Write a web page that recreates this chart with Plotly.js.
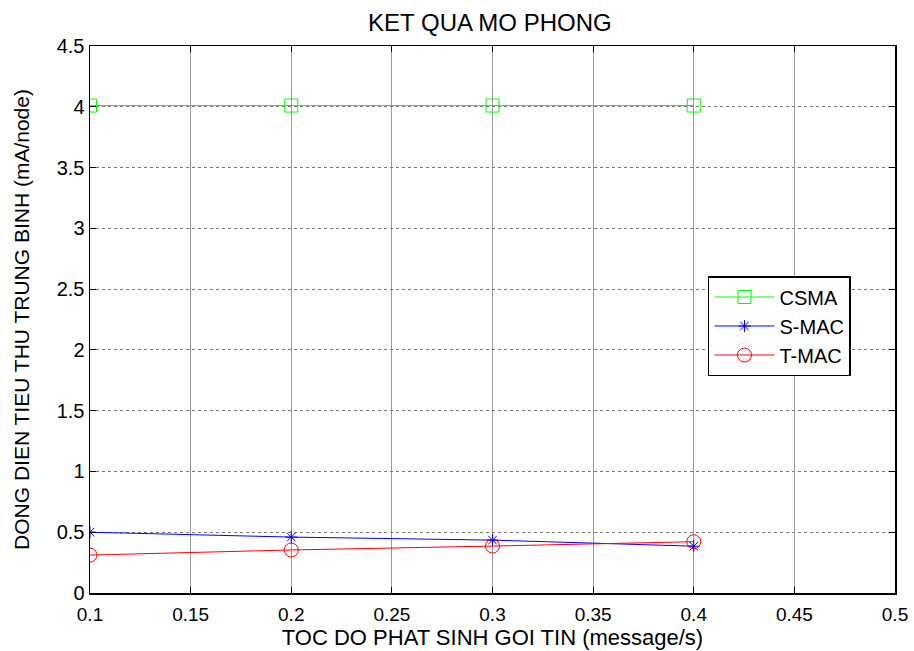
<!DOCTYPE html>
<html><head><meta charset="utf-8">
<script src="https://cdn.plot.ly/plotly-3.0.1.min.js"></script>
<style>body{margin:0;background:#fff}#c{width:914px;height:651px}</style>
</head><body><div id="c"></div>
<script>
const rates = [0.1, 0.2, 0.3, 0.4];
const csma = [4.01, 4.01, 4.01, 4.01];
const smac = [0.50, 0.46, 0.435, 0.385];
const tmac = [0.312, 0.354, 0.386, 0.422];
const names = ['CSMA', 'S-MAC', 'T-MAC'];
const xTicks = ['0.1','0.15','0.2','0.25','0.3','0.35','0.4','0.45','0.5'];
const yTicks = ['0','0.5','1','1.5','2','2.5','3','3.5','4','4.5'];

const traces = [
  {x: rates, y: csma, name: names[0], mode: 'lines+markers', line: {color: '#00ff00', width: 1},
   marker: {symbol: 'square-open', size: 13, color: '#00ff00', line: {width: 1}}},
  {x: rates, y: smac, name: names[1], mode: 'lines+markers', line: {color: '#0000ff', width: 1},
   marker: {symbol: 'asterisk-open', size: 10, color: '#0000ff', line: {width: 1, color: '#0000ff'}}},
  {x: rates, y: tmac, name: names[2], mode: 'lines+markers', line: {color: '#ff0000', width: 1},
   marker: {symbol: 'circle-open', size: 14, color: '#ff0000', line: {width: 1}}}
];

const fam = 'Liberation Sans, Arial, sans-serif';
const f = s => ({family: fam, size: s, color: '#000'});
const layout = {
  width: 914, height: 651,
  margin: {l: 90, r: 19, t: 46, b: 58},
  paper_bgcolor: '#fff', plot_bgcolor: '#fff',
  font: f(20),
  title: {text: 'KET QUA MO PHONG', font: f(24), x: 0.536, xanchor: 'center', y: 0.966, yanchor: 'middle'},
  xaxis: {
    range: [0.1, 0.5], tickvals: xTicks.map(Number), ticktext: xTicks,
    ticks: 'inside', ticklen: 6, tickcolor: '#000', mirror: 'ticks',
    showline: true, linecolor: '#000', linewidth: 1.5,
    showgrid: true, gridcolor: '#999', gridwidth: 1, zeroline: false,
    tickfont: f(19), ticklabelstandoff: 4,
    title: {text: 'TOC DO PHAT SINH GOI TIN (message/s)', font: f(22), standoff: 5}
  },
  yaxis: {
    range: [0, 4.5], tickvals: yTicks.map(Number), ticktext: yTicks,
    ticks: 'inside', ticklen: 6, tickcolor: '#000', mirror: 'ticks',
    showline: true, linecolor: '#000', linewidth: 1.5,
    showgrid: true, gridcolor: '#777', gridwidth: 1, griddash: 'dot', zeroline: false,
    tickfont: f(20),
    title: {text: 'DONG DIEN TIEU THU TRUNG BINH (mA/node)', font: f(21), standoff: 21}
  },
  legend: {
    x: 0.7677, y: 0.5795, xanchor: 'left', yanchor: 'top',
    bgcolor: '#fff', bordercolor: '#000', borderwidth: 1.5,
    font: f(20), tracegroupgap: 0, itemwidth: 60
  },
  showlegend: true
};
Plotly.newPlot('c', traces, layout, {displayModeBar: false, staticPlot: true});
</script></body></html>
